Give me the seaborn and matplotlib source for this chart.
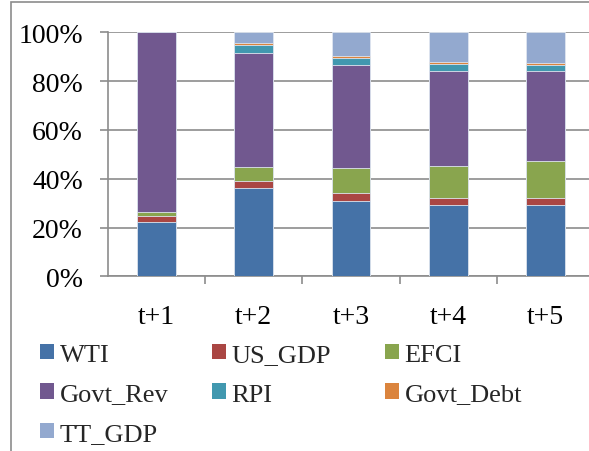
import matplotlib
matplotlib.use("Agg")
import matplotlib.pyplot as plt
from matplotlib.patches import Patch, Rectangle
import seaborn as sns
import numpy as np
import pandas as pd

categories = ["t+1", "t+2", "t+3", "t+4", "t+5"]
series_names = ["WTI", "US_GDP", "EFCI", "Govt_Rev", "RPI", "Govt_Debt", "TT_GDP"]
WTI = [22.4, 36.1, 31.0, 29.4, 29.4]
US_GDP = [2.5, 3.1, 3.0, 2.6, 2.8]
EFCI = [1.3, 5.7, 10.4, 13.2, 15.2]
Govt_Rev = [73.8, 46.8, 42.3, 39.1, 36.9]
RPI = [0.0, 3.1, 2.8, 2.7, 2.4]
Govt_Debt = [0.0, 0.8, 0.8, 0.8, 0.9]
TT_GDP = [0.0, 4.4, 9.7, 12.2, 12.4]
colors = ["#4572A7", "#AA4643", "#89A54E", "#71588F", "#4198AF", "#DB843D", "#93A9CF"]

values = [WTI, US_GDP, EFCI, Govt_Rev, RPI, Govt_Debt, TT_GDP]
arr = np.array(values, dtype=float)
arr = arr / arr.sum(axis=0)  # normalise to 100% stacked
cum = np.cumsum(arr, axis=0)

sns.set_theme(style="white")
plt.rcParams["font.family"] = ["Liberation Serif", "DejaVu Serif"]

W, H = 589, 452
fig = plt.figure(figsize=(W / 100, H / 100), dpi=100)
ax = fig.add_axes([108 / W, 1 - 277.3 / H, (594 - 108) / W, (277.3 - 33.3) / H])

# draw cumulative totals from top down so lower segments overlay
for i in range(len(series_names) - 1, -1, -1):
    df = pd.DataFrame({"cat": categories, "val": cum[i]})
    sns.barplot(data=df, x="cat", y="val", color=colors[i], width=0.4,
                saturation=1, ax=ax, edgecolor="#dfe6f0", linewidth=0.6, zorder=3)

ax.set_xlim(-0.5, 4.5)
ax.set_ylim(0, 1)
ax.set_xlabel("")
ax.set_ylabel("")
ax.set_yticks(np.arange(0, 1.01, 0.2))
ax.set_yticklabels([f"{int(round(v*100))}%" for v in np.arange(0, 1.01, 0.2)])
ax.yaxis.grid(True, color="#8c8c8c", linewidth=1.2, zorder=0)
ax.set_axisbelow(True)
for s in ["top", "right"]:
    ax.spines[s].set_visible(False)
ax.spines["left"].set_color("#8c8c8c")
ax.spines["left"].set_linewidth(1.2)
ax.spines["bottom"].set_color("#8c8c8c")
ax.spines["bottom"].set_linewidth(1.2)

ax.tick_params(axis="y", which="major", length=6, width=1.2, color="#8c8c8c",
               direction="out", left=True, pad=12, labelsize=20, labelcolor="black")
ax.set_xticks(range(5))
ax.set_xticklabels(categories)
ax.set_xticks([0.5, 1.5, 2.5, 3.5], minor=True)
ax.tick_params(axis="x", which="major", length=0, pad=20, labelsize=20, labelcolor="black")
ax.tick_params(axis="x", which="minor", length=6, width=1.2, color="#8c8c8c",
               direction="out", bottom=True)

# chart border
fig.patches.append(Rectangle((11 / W, -0.05), 1.2, 1 - 3 / H + 0.05, transform=fig.transFigure,
                             fill=False, edgecolor="#8c8c8c", linewidth=1.2))

handles = [Patch(facecolor=c, edgecolor="none") for c in colors]
columns = [[0, 3, 6], [1, 4], [2, 5]]
col_x = [40, 212, 385]
for idx, xpix in zip(columns, col_x):
    leg = fig.legend([handles[i] for i in idx], [series_names[i] for i in idx],
                     ncol=1, loc="upper left", bbox_to_anchor=(xpix / W, 1 - 345 / H),
                     frameon=False, fontsize=19, handlelength=0.52, handleheight=0.52,
                     handletextpad=0.22, labelspacing=0.66,
                     borderaxespad=0, borderpad=0)

fig.savefig("out.png", dpi=100)
